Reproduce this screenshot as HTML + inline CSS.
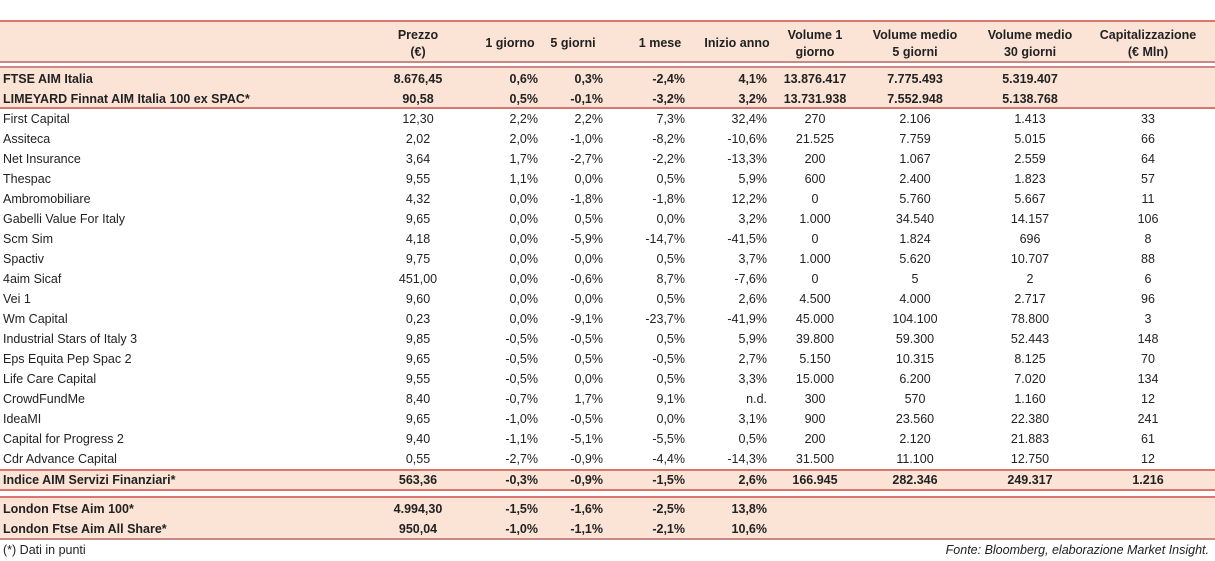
<!DOCTYPE html>
<html><head><meta charset="utf-8"><style>
body{margin:0;width:1215px;height:561px;background:#fff;position:relative;overflow:hidden;font-family:"Liberation Sans",sans-serif;color:#222}
.b{position:absolute;left:0;width:1215px;background:#fbe4d6}
.l{position:absolute;left:0;width:1215px;height:2px;background:#dc7470}
.t{position:absolute;font-size:12.5px;white-space:nowrap;line-height:14px}
.h{font-weight:bold;text-align:center;font-size:12.5px;line-height:17px}
</style></head><body>
<div class="b" style="top:21px;height:41px"></div>
<div class="b" style="top:67px;height:41px"></div>
<div class="b" style="top:470px;height:20px"></div>
<div class="b" style="top:497px;height:42px"></div>
<div class="l" style="top:20px"></div>
<div class="l" style="top:61px;background:#c98a86"></div>
<div class="l" style="top:66px;background:#c98a86"></div>
<div class="l" style="top:107px"></div>
<div class="l" style="top:469px"></div>
<div class="l" style="top:489px"></div>
<div class="l" style="top:496px"></div>
<div class="l" style="top:538px;background:#c98a86"></div>
<div id="root"></div>
<div class="t" style="left:3px;top:543px">(*) Dati in punti</div>
<div class="t" style="right:6px;top:543px;font-style:italic">Fonte: Bloomberg, elaborazione Market Insight.</div>
<script>
const headers=["Prezzo<br>(€)","1 giorno","5 giorni","1 mese","Inizio anno","Volume 1<br>giorno","Volume medio<br>5 giorni","Volume medio<br>30 giorni","Capitalizzazione<br>(€ Mln)"];
const names=["FTSE AIM Italia","LIMEYARD Finnat AIM Italia 100 ex SPAC*","First Capital","Assiteca","Net Insurance","Thespac","Ambromobiliare","Gabelli Value For Italy","Scm Sim","Spactiv","4aim Sicaf","Vei 1","Wm Capital","Industrial Stars of Italy 3","Eps Equita Pep Spac 2","Life Care Capital","CrowdFundMe","IdeaMI","Capital for Progress 2","Cdr Advance Capital","Indice AIM Servizi Finanziari*","London Ftse Aim 100*","London Ftse Aim All Share*"];
const values=[
["8.676,45","0,6%","0,3%","-2,4%","4,1%","13.876.417","7.775.493","5.319.407",""],
["90,58","0,5%","-0,1%","-3,2%","3,2%","13.731.938","7.552.948","5.138.768",""],
["12,30","2,2%","2,2%","7,3%","32,4%","270","2.106","1.413","33"],
["2,02","2,0%","-1,0%","-8,2%","-10,6%","21.525","7.759","5.015","66"],
["3,64","1,7%","-2,7%","-2,2%","-13,3%","200","1.067","2.559","64"],
["9,55","1,1%","0,0%","0,5%","5,9%","600","2.400","1.823","57"],
["4,32","0,0%","-1,8%","-1,8%","12,2%","0","5.760","5.667","11"],
["9,65","0,0%","0,5%","0,0%","3,2%","1.000","34.540","14.157","106"],
["4,18","0,0%","-5,9%","-14,7%","-41,5%","0","1.824","696","8"],
["9,75","0,0%","0,0%","0,5%","3,7%","1.000","5.620","10.707","88"],
["451,00","0,0%","-0,6%","8,7%","-7,6%","0","5","2","6"],
["9,60","0,0%","0,0%","0,5%","2,6%","4.500","4.000","2.717","96"],
["0,23","0,0%","-9,1%","-23,7%","-41,9%","45.000","104.100","78.800","3"],
["9,85","-0,5%","-0,5%","0,5%","5,9%","39.800","59.300","52.443","148"],
["9,65","-0,5%","0,5%","-0,5%","2,7%","5.150","10.315","8.125","70"],
["9,55","-0,5%","0,0%","0,5%","3,3%","15.000","6.200","7.020","134"],
["8,40","-0,7%","1,7%","9,1%","n.d.","300","570","1.160","12"],
["9,65","-1,0%","-0,5%","0,0%","3,1%","900","23.560","22.380","241"],
["9,40","-1,1%","-5,1%","-5,5%","0,5%","200","2.120","21.883","61"],
["0,55","-2,7%","-0,9%","-4,4%","-14,3%","31.500","11.100","12.750","12"],
["563,36","-0,3%","-0,9%","-1,5%","2,6%","166.945","282.346","249.317","1.216"],
["4.994,30","-1,5%","-1,6%","-2,5%","13,8%","","","",""],
["950,04","-1,0%","-1,1%","-2,1%","10,6%","","","",""]];
const rowY=[72,92,112,132,152,172,192,212,232,252,272,292,312,332,352,372,392,412,432,452,473,502,522];
const bold=[0,1,20,21,22];
const colC=[418,510,573,660,737,815,915,1030,1148];
const colR=[null,538,603,685,767,null,null,null,null];
const root=document.getElementById('root');
headers.forEach((h,i)=>{const d=document.createElement('div');


d.className='t h';d.innerHTML=h;d.style.left=(colC[i]-60)+'px';d.style.width='120px';
d.style.top=(h.includes('<br>')?27:35)+'px';root.appendChild(d);});
names.forEach((n,r)=>{const isB=bold.includes(r);
const d=document.createElement('div');


d.className='t';d.textContent=n;d.style.left='3px';d.style.top=rowY[r]+'px';if(isB)d.style.fontWeight='bold';root.appendChild(d);
values[r].forEach((v,c)=>{if(!v)return;const e=document.createElement('div');


e.className='t';e.textContent=v;e.style.top=rowY[r]+'px';if(isB)e.style.fontWeight='bold';
if(colR[c]){e.style.right=(1215-colR[c])+'px';}else{e.style.left=(colC[c]-60)+'px';e.style.width='120px';e.style.textAlign='center';}
root.appendChild(e);});});
</script>
</body></html>
